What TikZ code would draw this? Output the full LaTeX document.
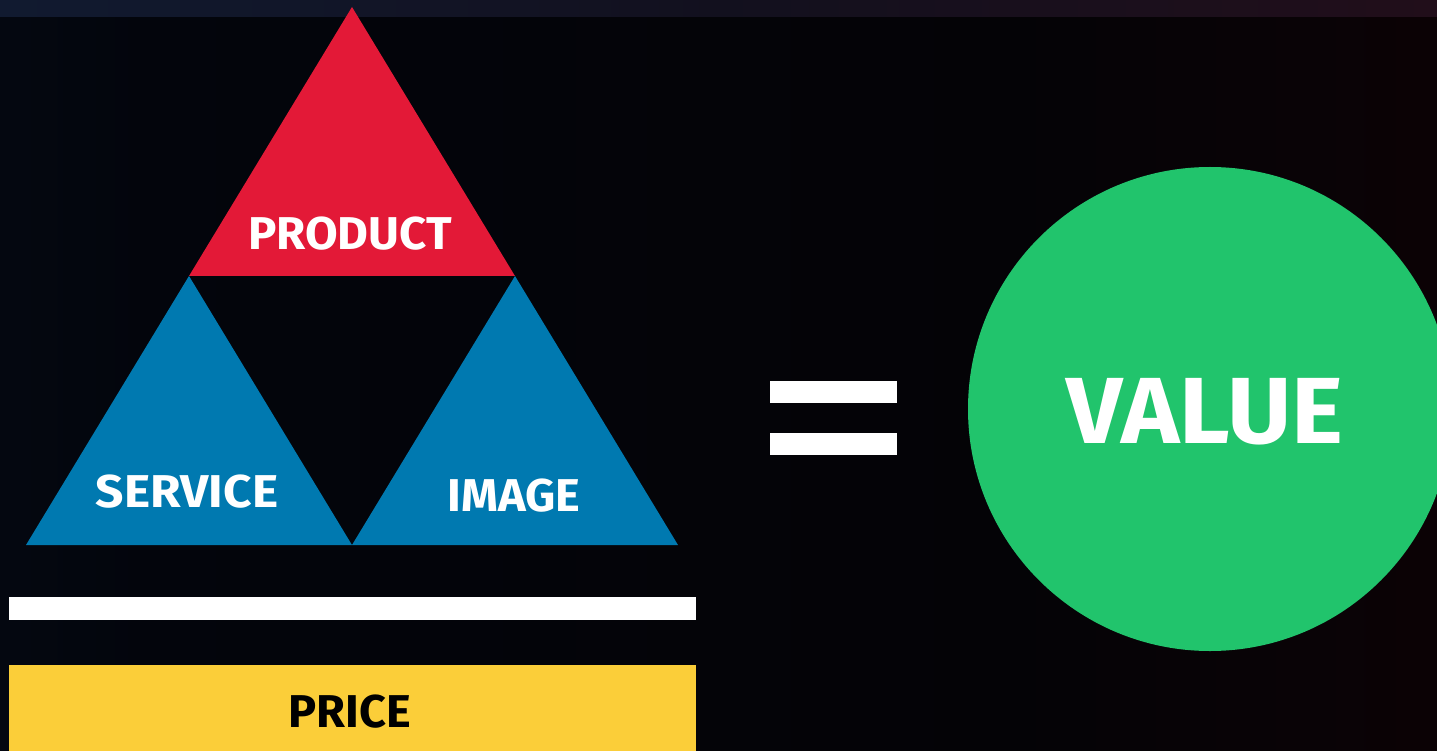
\documentclass[tikz,border=0pt]{standalone}
\usepackage{fontspec}
\setmainfont{Fira Sans}
\definecolor{pred}{HTML}{E31937}
\definecolor{pblue}{HTML}{0079B0}
\definecolor{pgreen}{HTML}{21C46C}
\definecolor{pyellow}{HTML}{FBCE39}
\pgfdeclarehorizontalshading{bgshade}{100bp}{
  color(0bp)=(rgb,255:red,12;green,32;blue,60);
  color(12bp)=(rgb,255:red,6;green,14;blue,28);
  color(30bp)=(rgb,255:red,3;green,5;blue,12);
  color(60bp)=(rgb,255:red,4;green,3;blue,6);
  color(85bp)=(rgb,255:red,16;green,2;blue,5);
  color(100bp)=(rgb,255:red,40;green,5;blue,10)}
\pgfdeclarehorizontalshading{stripshade}{100bp}{
  color(0bp)=(rgb,255:red,16;green,36;blue,66);
  color(50bp)=(rgb,255:red,18;green,16;blue,30);
  color(100bp)=(rgb,255:red,48;green,12;blue,22)}
\tikzset{
  lbl/.style={font=\fontsize{46}{46}\selectfont\bfseries, text=white, inner sep=0pt, anchor=base},
  bar/.style={fill=white, draw=none},
}
\begin{document}
\begin{tikzpicture}[x=1pt,y=-1pt]
\useasboundingbox (0,0) rectangle (1437,751);
\clip (0,0) rectangle (1437,751);
% background
\shade[shading=bgshade] (0,0) rectangle (1437,751);
\shade[shading=stripshade] (0,0) rectangle (1437,17);
% triangles
\fill[pred] (352,7) -- (515,276) -- (189,276) -- cycle;
\fill[pblue] (189,276) -- (352,545) -- (26,545) -- cycle;
\fill[pblue] (515,276) -- (678,545) -- (352,545) -- cycle;
\node[lbl, xscale=1.03] (product) at (350,250) {PRODUCT};
\node[lbl, xscale=1.08] (service) at (187,507) {SERVICE};
\node[lbl, xscale=1.02] (image) at (514,511) {IMAGE};
% fraction bar and price
\fill[bar] (9,597) rectangle (696,620);
\fill[pyellow] (9,665) rectangle (696,751);
\node[lbl, text=black, xscale=1.02] (price) at (350,727) {PRICE};
% equals
\fill[bar] (770,381) rectangle (897,403);
\fill[bar] (770,433) rectangle (897,455);
% value circle
\fill[pgreen] (1210,409) circle (242);
\node[lbl, font=\fontsize{94}{94}\selectfont\bfseries, xscale=1.05] (value) at (1205,443) {VALUE};
\end{tikzpicture}
\end{document}
